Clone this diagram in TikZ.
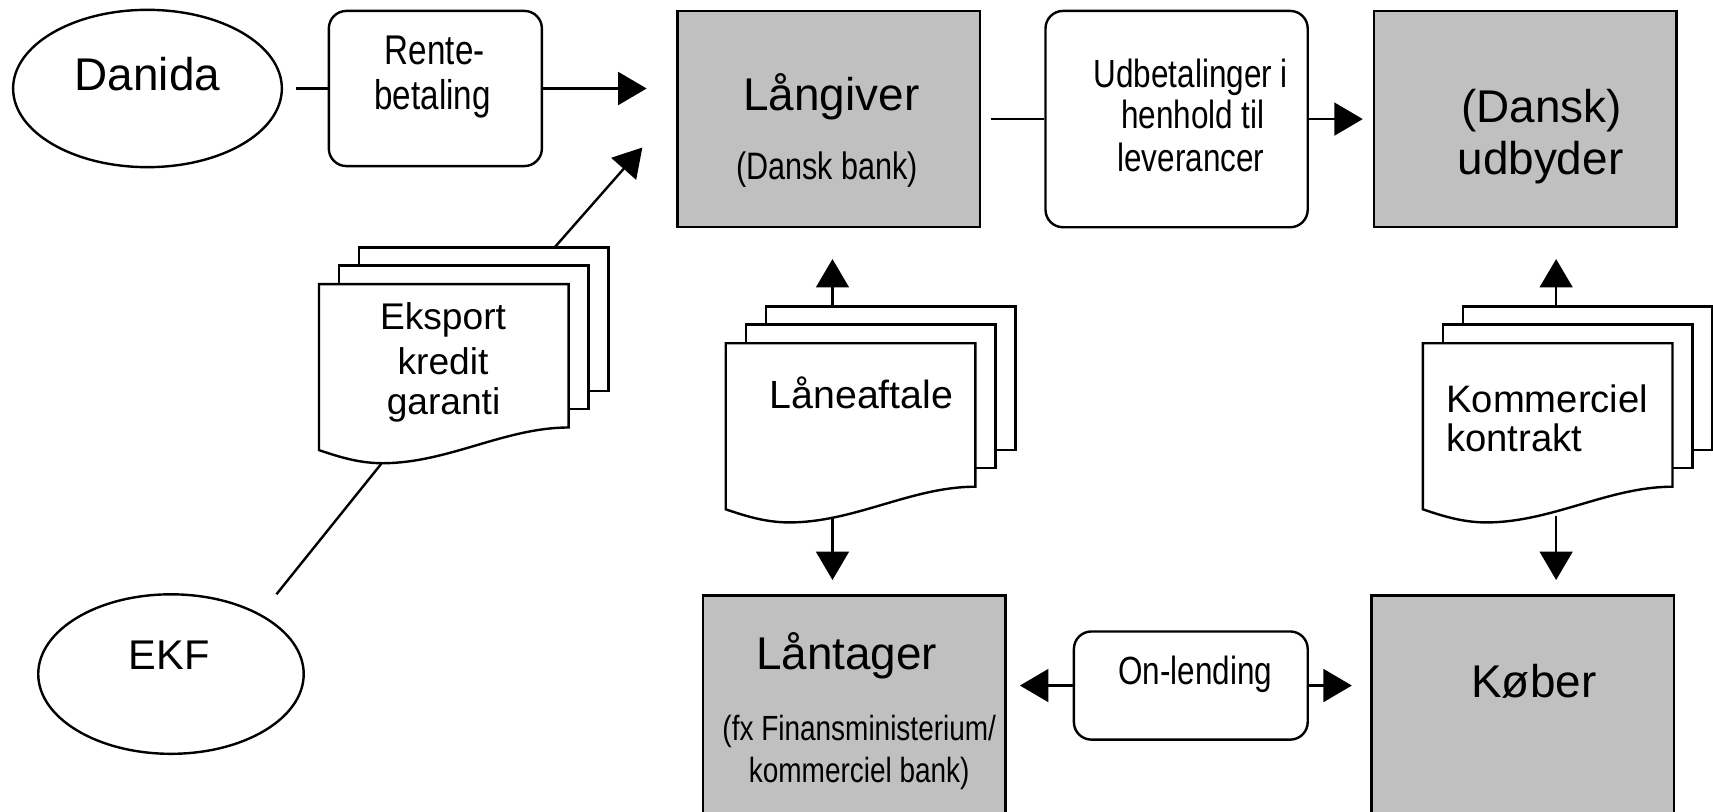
\documentclass[tikz,border=0pt]{standalone}
\usepackage{fontspec}
\setmainfont{Liberation Sans}
\newfontfamily\condf[FakeStretch=0.8]{Liberation Sans}
\usetikzlibrary{shapes.geometric,arrows.meta}
\definecolor{boxgray}{HTML}{C0C0C0}
\newcommand\myfs[1]{\fontsize{#1}{#1}\selectfont}
\newcommand\docstack[2]{%
  \draw[sheet] ({#1+36.6},{#2-33.5}) rectangle ({#1+265.1},{#2+97.8});
  \draw[sheet] ({#1+18.3},{#2-17}) rectangle ({#1+246.8},{#2+114.3});
  \draw[sheet] (#1,#2) -- ({#1+228.5},#2) -- ({#1+228.5},{#2+131.3})
     .. controls ({#1+170},{#2+131.3}) and ({#1+118},{#2+164}) .. ({#1+58},{#2+164})
     .. controls ({#1+35},{#2+164}) and ({#1+15},{#2+157}) .. (#1,{#2+152}) -- cycle;
}
\begin{document}
\begin{tikzpicture}[x=1pt,y=-1pt,
  lw/.style={line width=2.2pt},
  entity/.style={draw, lw, fill=boxgray, inner sep=0pt, minimum width=277pt, minimum height=198pt},
  procbox/.style={draw, lw, fill=white, rounded corners=16pt, inner sep=0pt},
  oval/.style={draw, lw, ellipse, inner sep=0pt, minimum width=246pt, minimum height=144pt},
  txt/.style={inner sep=0pt, anchor=base},
  arr/.style={lw, -{Triangle[length=26pt,width=30pt]}},
  ln/.style={lw},
  sheet/.style={draw, lw, fill=white, line join=miter}
]
\useasboundingbox (0,0) rectangle (1568,742.4);
\clip (0,0) rectangle (1568,742.4);

% ovals
\node[oval] (danida) at (135,81) {};
\node[oval, minimum width=243pt, minimum height=146pt] (ekf) at (156.5,617) {};

% boxes
\node[procbox, minimum width=195pt, minimum height=142pt] (rente) at (398.5,81) {};
\node[entity] (langiver) at (758.5,109) {};
\node[procbox, minimum width=240pt, minimum height=198pt] (udbet) at (1077,109) {};
\node[entity] (udbyder) at (1396,109) {};
\node[entity, minimum height=240pt] (lantager) at (782,665) {};
\node[procbox, minimum width=214pt, minimum height=99pt] (onlend) at (1090,627.5) {};
\node[entity, minimum height=240pt] (kober) at (1394,665) {};

% document stacks
\docstack{292}{260}
\docstack{664.3}{314.2}
\docstack{1302.4}{314.2}

% connector end points
\coordinate (ekTop) at (507.6,226.5);
\coordinate (ekTip) at (588,135);
\coordinate (ekfEnd) at (253,544);
\coordinate (ekBot) at (349,424.5);
\coordinate (laTop) at (762,280.7);
\coordinate (laBot) at (762,474);
\coordinate (kkTop) at (1424.4,280.7);
\coordinate (kkBot) at (1424.4,472);

% connectors
\draw[ln, shorten <=12pt] (danida.east) -- (rente.west);
\draw[arr, shorten >=27pt] (rente.east) -- (langiver.west |- rente.east);
\draw[ln, shorten <=9pt] (langiver.east) -- (udbet.west);
\draw[arr, shorten >=9pt] (udbet.east) -- (udbyder.west);
\draw[arr] (ekTop) -- (ekTip);
\draw[ln] (ekfEnd) -- (ekBot);
\draw[arr, shorten >=28pt] (laTop) -- (langiver.south -| laTop);
\draw[arr, shorten >=13pt] (laBot) -- (lantager.north -| laBot);
\draw[arr, shorten >=28pt] (kkTop) -- (udbyder.south -| kkTop);
\draw[arr, shorten >=13pt] (kkBot) -- (kober.north -| kkBot);
\draw[arr, shorten >=12pt] (onlend.west) -- (lantager.east |- onlend.west);
\draw[arr, shorten >=17pt] (onlend.east) -- (kober.west |- onlend.east);

% texts
\node[txt, font=\myfs{42}] (tDanida) at (135,83) {Danida};
\node[txt, font=\myfs{38}] (tEKF) at (155,613) {EKF};
\node[txt, font=\condf\myfs{38}] (tRente1) at (398,59) {Rente-};
\node[txt, font=\condf\myfs{38}] (tRente2) at (396,100) {betaling};
\node[txt, font=\myfs{42}] (tLang1) at (761,101) {Långiver};
\node[txt, font=\condf\myfs{35}] (tLang2) at (757,164) {(Dansk bank)};
\node[txt, font=\condf\myfs{36}] (tUd1) at (1090,80) {Udbetalinger i};
\node[txt, font=\condf\myfs{36}] (tUd2) at (1092,118) {henhold til};
\node[txt, font=\condf\myfs{36}] (tUd3) at (1090,157) {leverancer};
\node[txt, font=\myfs{42}] (tUdb1) at (1411,112) {(Dansk)};
\node[txt, font=\myfs{42}] (tUdb2) at (1410,160) {udbyder};
\node[txt, font=\myfs{34}] (tEk1) at (405.5,301.7) {Eksport};
\node[txt, font=\myfs{34}] (tEk2) at (405.5,342.8) {kredit};
\node[txt, font=\myfs{34}] (tEk3) at (406,379.4) {garanti};
\node[txt, font=\myfs{36}] (tLa) at (788.5,373.7) {Låneaftale};
\node[txt, font=\myfs{35}, anchor=base west] (tKk1) at (1323.7,377.6) {Kommerciel};
\node[txt, font=\myfs{35}, anchor=base west] (tKk2) at (1323.7,413.3) {kontrakt};
\node[txt, font=\myfs{42}] (tLt1) at (775,613) {Låntager};
\node[txt, font=\condf\myfs{32}] (tLt2) at (786.5,678) {(fx Finansministerium/};
\node[txt, font=\condf\myfs{32}] (tLt3) at (786.5,716) {kommerciel bank)};
\node[txt, font=\condf\myfs{36}] (tOn) at (1094,627) {On-lending};
\node[txt, font=\myfs{42}] (tKob) at (1404,638) {Køber};
\end{tikzpicture}
\end{document}
